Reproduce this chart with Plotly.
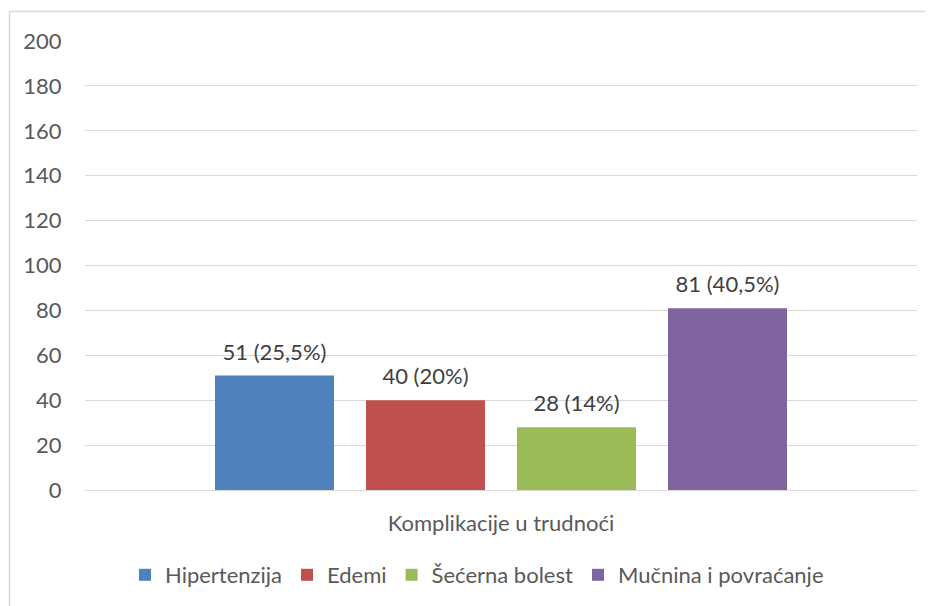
import plotly.graph_objects as go

categories = ["Komplikacije u trudnoći"]
series_names = ["Hipertenzija", "Edemi", "Šećerna bolest", "Mučnina i povraćanje"]
series_values = [51, 40, 28, 81]
series_labels = ["51 (25,5%)", "40 (20%)", "28 (14%)", "81 (40,5%)"]
colors = ["#4F81BD", "#C0504D", "#9BBB59", "#8064A2"]
y_ticks = [0, 20, 40, 60, 80, 100, 120, 140, 160, 180, 200]

FONT = "Lato"
FS = 22
OFF = 8  # page body margin offset
BARGAP = 0.274
fig = go.Figure()
for name, val, col in zip(series_names, series_values, colors):
    fig.add_trace(go.Bar(
        name=name, x=categories, y=[val],
        marker=dict(color=col, line=dict(width=0)),
        hoverinfo="name+y",
    ))
for name, val, lab in zip(series_names, series_values, series_labels):
    fig.add_trace(go.Scatter(
        x=categories, y=[val], text=[lab], mode="markers+text",
        textposition="top center", cliponaxis=False, showlegend=False,
        marker=dict(size=15, opacity=0),
        textfont=dict(family=FONT, size=FS, color="#404040"),
        hoverinfo="skip",
    ))

W, H = 933, 606
L, T = 85 - OFF, 41 - OFF
pw, ph = 832, 449
R = W - L - pw
B = H - T - ph

def px_x(x):
    return (x - OFF - L) / pw

def px_y(y):
    return (T + ph - (y - OFF)) / ph

fig.update_layout(
    width=W, height=H,
    margin=dict(l=L, r=R, t=T, b=B),
    paper_bgcolor="white", plot_bgcolor="white",
    barmode="group", bargap=BARGAP, bargroupgap=0.212,
    scattermode="group", scattergap=BARGAP,
    font=dict(family=FONT, size=FS, color="#595959"),
    showlegend=True,
    legend=dict(orientation="h", x=px_x(477), xanchor="center", y=px_y(575), yanchor="middle",
                font=dict(family=FONT, size=FS, color="#595959"), itemwidth=30,
                traceorder="normal"),
    xaxis=dict(showgrid=False, showline=False, ticks="outside", ticklen=14, tickcolor="white",
               tickfont=dict(family=FONT, size=FS, color="#595959")),
    yaxis=dict(range=[0, 200], tickvals=y_ticks, showgrid=True, gridcolor="#D9D9D9", gridwidth=1,
               zeroline=True, zerolinecolor="#D9D9D9", zerolinewidth=1, showline=False,
               ticks="outside", ticklen=18, tickcolor="white",
               tickfont=dict(family=FONT, size=FS, color="#595959")),
    shapes=[
        dict(type="line", xref="paper", yref="paper", x0=px_x(9.5), x1=px_x(960), y0=px_y(11.5), y1=px_y(11.5),
             line=dict(color="#D9D9D9", width=1.5)),
        dict(type="line", xref="paper", yref="paper", x0=px_x(9.5), x1=px_x(9.5), y0=px_y(11.5), y1=px_y(640),
             line=dict(color="#D9D9D9", width=1.5)),
    ],
)

fig.write_html("out.html")
